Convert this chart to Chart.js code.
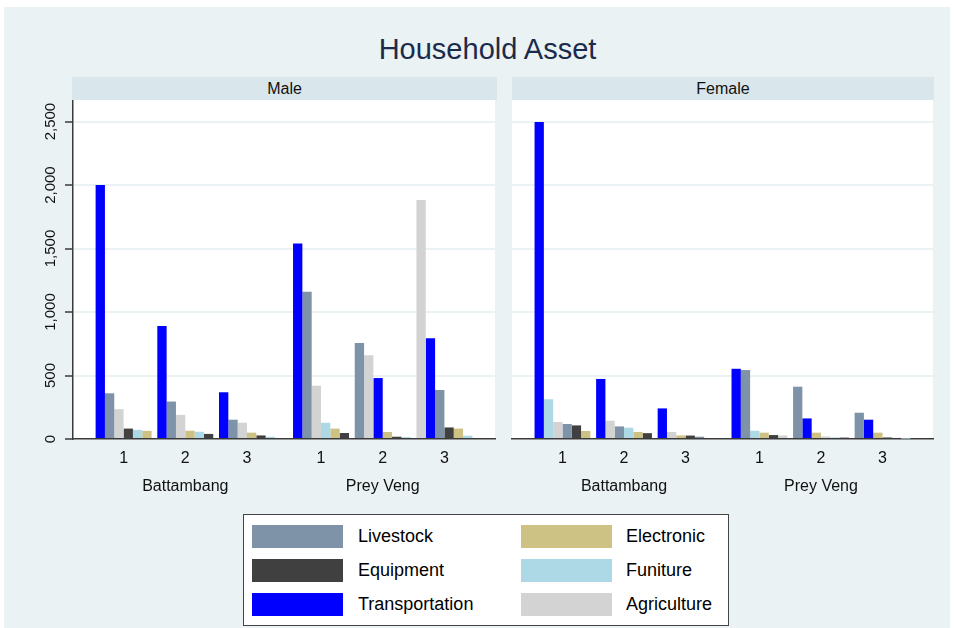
<!DOCTYPE html>
<html><head><meta charset="utf-8">
<script src="https://cdn.jsdelivr.net/npm/chart.js@4.4.1/dist/chart.umd.min.js"></script>
<style>
html,body{margin:0;padding:0;background:#fff;width:955px;height:628px;overflow:hidden;font-family:"Liberation Sans",Arial,sans-serif;}
#bg{position:absolute;left:4px;top:7px;width:946px;height:621px;background:#EAF2F3;}
#title{position:absolute;left:0;width:975px;top:32px;text-align:center;font-size:29px;color:#1B2B4B;line-height:34px;}
.strip{position:absolute;top:77px;height:23px;background:#D9E6EB;text-align:center;font-size:16px;line-height:23px;color:#111;}
canvas{position:absolute;top:100px;}
#legend{position:absolute;left:243px;top:514px;width:484px;height:110px;background:#fff;border:1px solid #444;}
.sw{position:absolute;width:91px;height:23px;}
.lt{position:absolute;height:23px;line-height:23px;font-size:18px;color:#000;white-space:nowrap;}
</style></head>
<body>
<div id="bg"></div>
<div id="title">Household Asset</div>
<div class="strip" style="left:72px;width:425px;">Male</div>
<div class="strip" style="left:512px;width:422px;">Female</div>
<canvas id="male" width="500" height="410" style="left:0px;width:500px;height:410px;"></canvas>
<canvas id="female" width="450" height="410" style="left:505px;width:450px;height:410px;"></canvas>
<div id="legend"></div>
<script>
// ---------- data ----------
const subgroups = ["1", "2", "3"];
const provinces = ["Battambang", "Prey Veng"];
const assetNames = ["Livestock", "Electronic", "Equipment", "Funiture", "Transportation", "Agriculture"];
const assetColors = ["#7F93A8", "#CDC283", "#404040", "#ADD8E6", "#0000FF", "#D3D3D3"];
const yTicks = [0, 500, 1000, 1500, 2000, 2500];

// values per slot: Battambang 1,2,3 then Prey Veng 1,2,3
const maleLivestock      = [360, 295, 152, 1160, 757, 386];
const maleElectronic     = [64, 65, 50, 82, 55, 82];
const maleEquipment      = [82, 40, 28, 47, 18, 91];
const maleFuniture       = [72, 57, 18, 128, 15, 26];
const maleTransportation = [2000, 890, 368, 1540, 480, 793];
const maleAgriculture    = [235, 190, 128, 420, 660, 1882];

const femaleLivestock      = [118, 99, 18, 543, 412, 207];
const femaleElectronic     = [63, 55, 28, 50, 50, 50];
const femaleEquipment      = [107, 46, 27, 31, 11, 12];
const femaleFuniture       = [313, 89, 8, 65, 13, 3];
const femaleTransportation = [2496, 473, 241, 553, 162, 152];
const femaleAgriculture    = [134, 144, 55, 28, 20, 10];

// ---------- layout helpers ----------
Chart.defaults.font.family = '"Liberation Sans", Arial, sans-serif';
const groupGap = 0.2;
const slotPos = [];
provinces.forEach((p, g) => subgroups.forEach((s, i) => slotPos.push(g * (subgroups.length + groupGap) + i)));
const groupCenters = provinces.map((p, g) => g * (subgroups.length + groupGap) + (subgroups.length - 1) / 2);
const xMin = -0.82, xMax = slotPos[slotPos.length - 1] + 0.82;

function rankDatasets(series) {
  const ds = [];
  for (let r = 0; r < assetNames.length; r++) {
    ds.push({label: 'rank ' + (r + 1), data: [], backgroundColor: [], borderWidth: 0,
             xAxisID: 'x', yAxisID: 'y', categoryPercentage: 0.907, barPercentage: 1});
  }
  for (let k = 0; k < slotPos.length; k++) {
    const order = assetNames.map((_, a) => a).sort((a, b) => series[b][k] - series[a][k]);
    order.forEach((a, r) => {
      ds[r].data.push({x: slotPos[k], y: series[a][k]});
      ds[r].backgroundColor.push(assetColors[a]);
    });
  }
  return ds;
}

const whiteArea = {id: 'whiteArea', beforeDraw(c) {
  const {ctx, chartArea: a} = c; ctx.save(); ctx.fillStyle = '#fff';
  ctx.fillRect(a.left, a.top, a.right - a.left, a.bottom - a.top); ctx.restore();
}};

function makeChart(id, series, showY) {
  return new Chart(document.getElementById(id), {
    type: 'bar',
    data: {datasets: rankDatasets(series)},
    options: {
      responsive: false, animation: false, maintainAspectRatio: false,
      layout: {padding: {left: showY ? 0 : 7, right: showY ? 5 : 22, top: 0, bottom: 11}},
      plugins: {legend: {display: false}, tooltip: {enabled: false}, title: {display: false}},
      scales: {
        x: {type: 'linear', position: 'bottom', weight: 1, min: xMin, max: xMax, bounds: 'data', offset: false,
            grid: {display: false, drawTicks: false, offset: false},
            border: {display: true, color: '#3a3a3a', width: 1.5},
            afterBuildTicks: s => { s.ticks = slotPos.map(v => ({value: v})); },
            ticks: {padding: 10, font: {size: 16}, color: '#111', maxRotation: 0, minRotation: 0, autoSkip: false,
                    callback: (v, i) => subgroups[i % subgroups.length]},
            afterFit: s => { s.height = 30; s.paddingLeft = 0; s.paddingRight = 0; }},
        x2: {type: 'linear', position: 'bottom', weight: 2, min: xMin, max: xMax, bounds: 'data', offset: false,
            grid: {display: false, drawTicks: false, offset: false}, border: {display: false},
            afterBuildTicks: s => { s.ticks = groupCenters.map(v => ({value: v})); },
            ticks: {padding: 8, font: {size: 16}, color: '#111', maxRotation: 0, minRotation: 0, autoSkip: false,
                    callback: (v, i) => provinces[i]},
            afterFit: s => { s.height = 30; s.paddingLeft = 0; s.paddingRight = 0; }},
        y: {type: 'linear', min: 0, max: 2670, bounds: 'data',
            afterBuildTicks: s => { s.ticks = yTicks.map(v => ({value: v})); },
            grid: {color: '#EAF2F3', lineWidth: 2, drawTicks: showY, tickLength: 8, tickColor: '#3a3a3a', tickWidth: 1.5},
            border: {display: showY, color: '#3a3a3a', width: 1.5},
            ticks: {display: showY, minRotation: 90, maxRotation: 90, crossAlign: 'center', padding: -5,
                    font: {size: 15}, color: '#111', callback: v => v.toLocaleString('en-US')},
            afterFit: s => { s.width = showY ? 73 : 0; s.paddingTop = 0; s.paddingBottom = 0; }}
      }
    },
    plugins: [whiteArea]
  });
}

makeChart('male', [maleLivestock, maleElectronic, maleEquipment, maleFuniture, maleTransportation, maleAgriculture], true);
makeChart('female', [femaleLivestock, femaleElectronic, femaleEquipment, femaleFuniture, femaleTransportation, femaleAgriculture], false);

// ---------- legend (2 columns, row-major) ----------
const legend = document.getElementById('legend');
const colSw = [8, 277], colTx = [114, 382], rowTop = [10, 44, 78];
assetNames.forEach((name, i) => {
  const col = i % 2, row = Math.floor(i / 2);
  const sw = document.createElement('div'); sw.className = 'sw';
  sw.style.left = colSw[col] + 'px'; sw.style.top = rowTop[row] + 'px'; sw.style.background = assetColors[i];
  const tx = document.createElement('div'); tx.className = 'lt'; tx.textContent = name;
  tx.style.left = colTx[col] + 'px'; tx.style.top = rowTop[row] + 'px';
  legend.appendChild(sw); legend.appendChild(tx);
});
</script>
</body></html>
